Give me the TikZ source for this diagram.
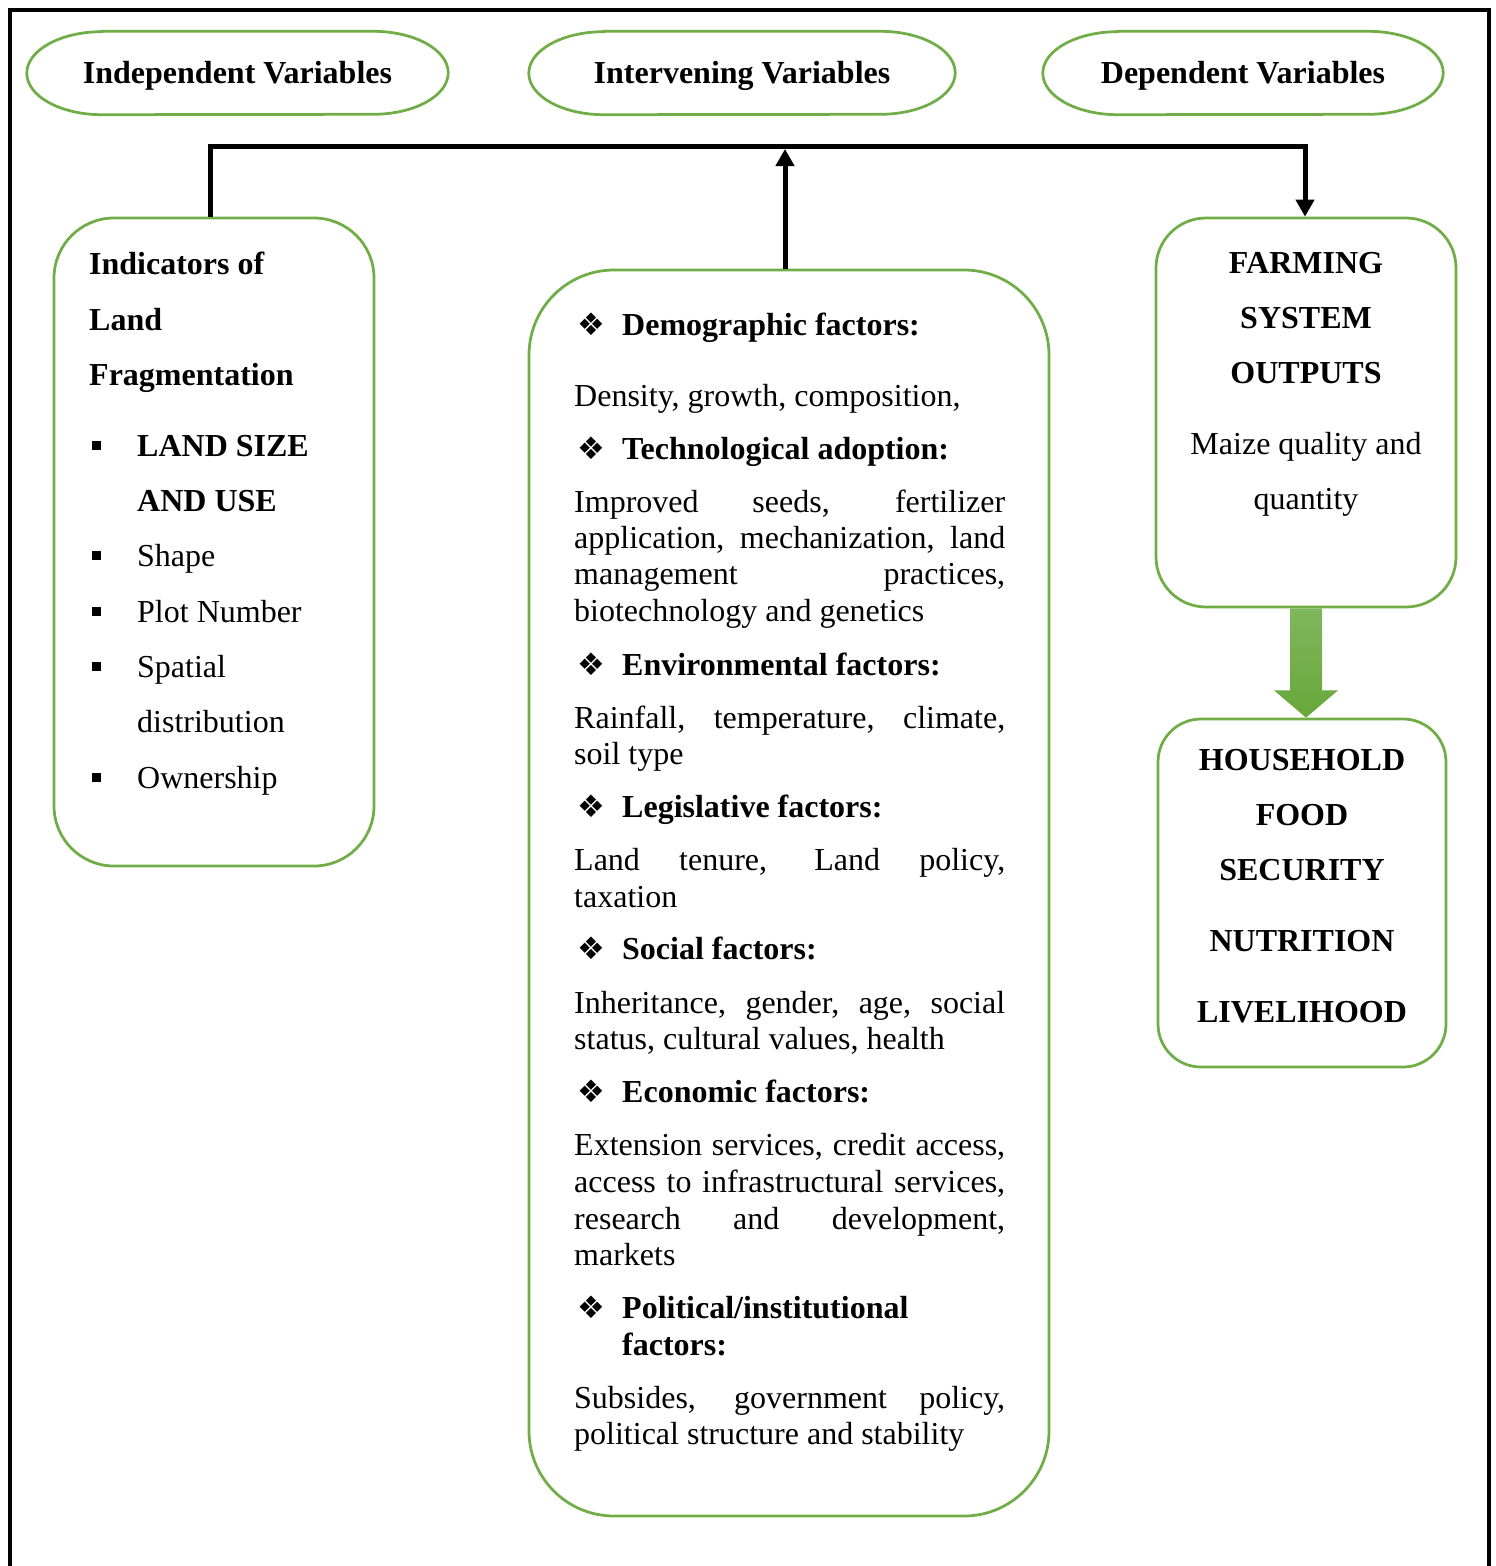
\documentclass[tikz,border=0pt]{standalone}
\usepackage{fontspec}
\setmainfont{Liberation Serif}
\newfontfamily\dejavu{DejaVu Sans}
\usetikzlibrary{arrows.meta,calc}
\definecolor{gr}{HTML}{70AD47}
\definecolor{artop}{HTML}{80B75C}
\definecolor{arbot}{HTML}{67A73A}
\newcommand{\dia}{\makebox[45pt][l]{\dejavu\fontsize{31}{31}\selectfont ❖}}
\newcommand{\sqb}{\makebox[45pt][l]{\rule[6pt]{9pt}{9pt}}}
\newcommand{\jl}[1]{\makebox[431pt][s]{#1}}
\newcommand{\stad}[1]{\draw[draw=gr,line width=2.75pt] ([xshift=75pt]#1.north west) -- ([xshift=-75pt]#1.north east) arc[start angle=90,end angle=-90,x radius=75pt,y radius=41.5pt] -- ([xshift=75pt]#1.south west) arc[start angle=-90,end angle=-270,x radius=75pt,y radius=41.5pt] -- cycle;}
\begin{document}
\begin{tikzpicture}[x=1pt,y=-1pt,
  box/.style={draw=gr, line width=2.75pt, rounded corners=#1, inner sep=0pt},
  stadnode/.style={minimum height=83pt, inner sep=0pt},
  tl/.style={anchor=base west, inner sep=0pt, font=\fontsize{32}{38}\selectfont},
  tc/.style={anchor=base, inner sep=0pt, font=\fontsize{32}{38}\selectfont},
  conn/.style={line width=5pt, line join=miter},
  tip/.style={-{Triangle[length=17pt,width=18pt]}}]
\useasboundingbox (0,0) rectangle (1496,1566);
% outer frame
\draw[line width=4pt, line join=miter] (9.5,1580) -- (9.5,9.5) -- (1488.5,9.5) -- (1488.5,1580);
% headers
\node[stadnode, minimum width=421pt] (iv) at (237.5,73) {};
\node[stadnode, minimum width=426pt] (tv) at (742,73) {};
\node[stadnode, minimum width=400pt] (dv) at (1243,73) {};
\stad{iv}\stad{tv}\stad{dv}
\node[tc] (ivt) at (237.5,83) {\textbf{Independent Variables}};
\node[tc] (tvt) at (742,83) {\textbf{Intervening Variables}};
\node[tc] (dvt) at (1243,83) {\textbf{Dependent Variables}};
% boxes
\node[box=60pt, minimum width=320pt, minimum height=648pt] (ind) at (214,542) {};
\node[box=85pt, minimum width=520pt, minimum height=1246pt] (mid) at (789,893) {};
\node[box=50pt, minimum width=300pt, minimum height=389pt] (fso) at (1306,412.5) {};
\node[box=43pt, minimum width=288pt, minimum height=348pt] (hfs) at (1302,893) {};
% left box text
\node[tl] (l1) at (89,274) {\textbf{Indicators of}};
\node[tl] (l2) at (89,330) {\textbf{Land}};
\node[tl] (l3) at (89,385) {\textbf{Fragmentation}};
\node[tl] (l4) at (92,456) {\sqb\textbf{LAND SIZE}};
\node[tl] (l5) at (137,511) {\textbf{AND USE}};
\node[tl] (l6) at (92,566) {\sqb Shape};
\node[tl] (l7) at (92,622) {\sqb Plot Number};
\node[tl] (l8) at (92,677) {\sqb Spatial};
\node[tl] (l9) at (137,732) {distribution};
\node[tl] (l10) at (92,788) {\sqb Ownership};
% middle box text
\node[tl] (m1) at (577,335) {\dia\textbf{Demographic factors:}};
\node[tl] (m2) at (574,406) {Density, growth, composition,};
\node[tl] (m3) at (577,459) {\dia\textbf{Technological adoption:}};
\node[tl] (m4) at (574,512) {\jl{Improved seeds, fertilizer}};
\node[tl] (m5) at (574,548) {\jl{application, mechanization, land}};
\node[tl] (m6) at (574,584) {\jl{management practices,}};
\node[tl] (m7) at (574,621) {biotechnology and genetics};
\node[tl] (m8) at (577,675) {\dia\textbf{Environmental factors:}};
\node[tl] (m9) at (574,728) {\jl{Rainfall, temperature, climate,}};
\node[tl] (m10) at (574,764) {soil type};
\node[tl] (m11) at (577,817) {\dia\textbf{Legislative factors:}};
\node[tl] (m12) at (574,870) {\jl{Land tenure, Land policy,}};
\node[tl] (m13) at (574,907) {taxation};
\node[tl] (m14) at (577,959) {\dia\textbf{Social factors:}};
\node[tl] (m15) at (574,1013) {\jl{Inheritance, gender, age, social}};
\node[tl] (m16) at (574,1049) {status, cultural values, health};
\node[tl] (m17) at (577,1102) {\dia\textbf{Economic factors:}};
\node[tl] (m18) at (574,1155) {\jl{Extension services, credit access,}};
\node[tl] (m19) at (574,1192) {\jl{access to infrastructural services,}};
\node[tl] (m20) at (574,1229) {\jl{research and development,}};
\node[tl] (m21) at (574,1265) {markets};
\node[tl] (m22) at (577,1318) {\dia\textbf{Political/institutional}};
\node[tl] (m23) at (622,1355) {\textbf{factors:}};
\node[tl] (m24) at (574,1408) {\jl{Subsides, government policy,}};
\node[tl] (m25) at (574,1444) {political structure and stability};
% right top box text
\node[tc] (r1) at (1306,273) {\textbf{FARMING}};
\node[tc] (r2) at (1306,328) {\textbf{SYSTEM}};
\node[tc] (r3) at (1306,383) {\textbf{OUTPUTS}};
\node[tc] (r4) at (1306,454) {Maize quality and};
\node[tc] (r5) at (1306,509) {quantity};
% right bottom box text
\node[tc] (h1) at (1302,770) {\textbf{HOUSEHOLD}};
\node[tc] (h2) at (1302,825) {\textbf{FOOD}};
\node[tc] (h3) at (1302,880) {\textbf{SECURITY}};
\node[tc] (h4) at (1302,951) {\textbf{NUTRITION}};
\node[tc] (h5) at (1302,1022) {\textbf{LIVELIHOOD}};
% connectors
\coordinate (jl) at (210.5,146.5);
\coordinate (jr) at (1305,146.5);
\coordinate (jm) at (785,149);
\draw[conn, tip] (ind.north -| jl) -- (jl) -- (jr) -- (fso.north -| jr);
\draw[conn, tip] (mid.north -| jm) -- (jm);
% green block arrow
\shade[top color=artop, bottom color=arbot]
  ($(fso.south)+(-16,0)$) -- ($(fso.south)+(16,0)$) -- ($(fso.south)+(16,82)$) -- ($(fso.south)+(32,82)$)
  -- (fso.south |- hfs.north) -- ($(fso.south)+(-32,82)$) -- ($(fso.south)+(-16,82)$) -- cycle;
\end{tikzpicture}
\end{document}
